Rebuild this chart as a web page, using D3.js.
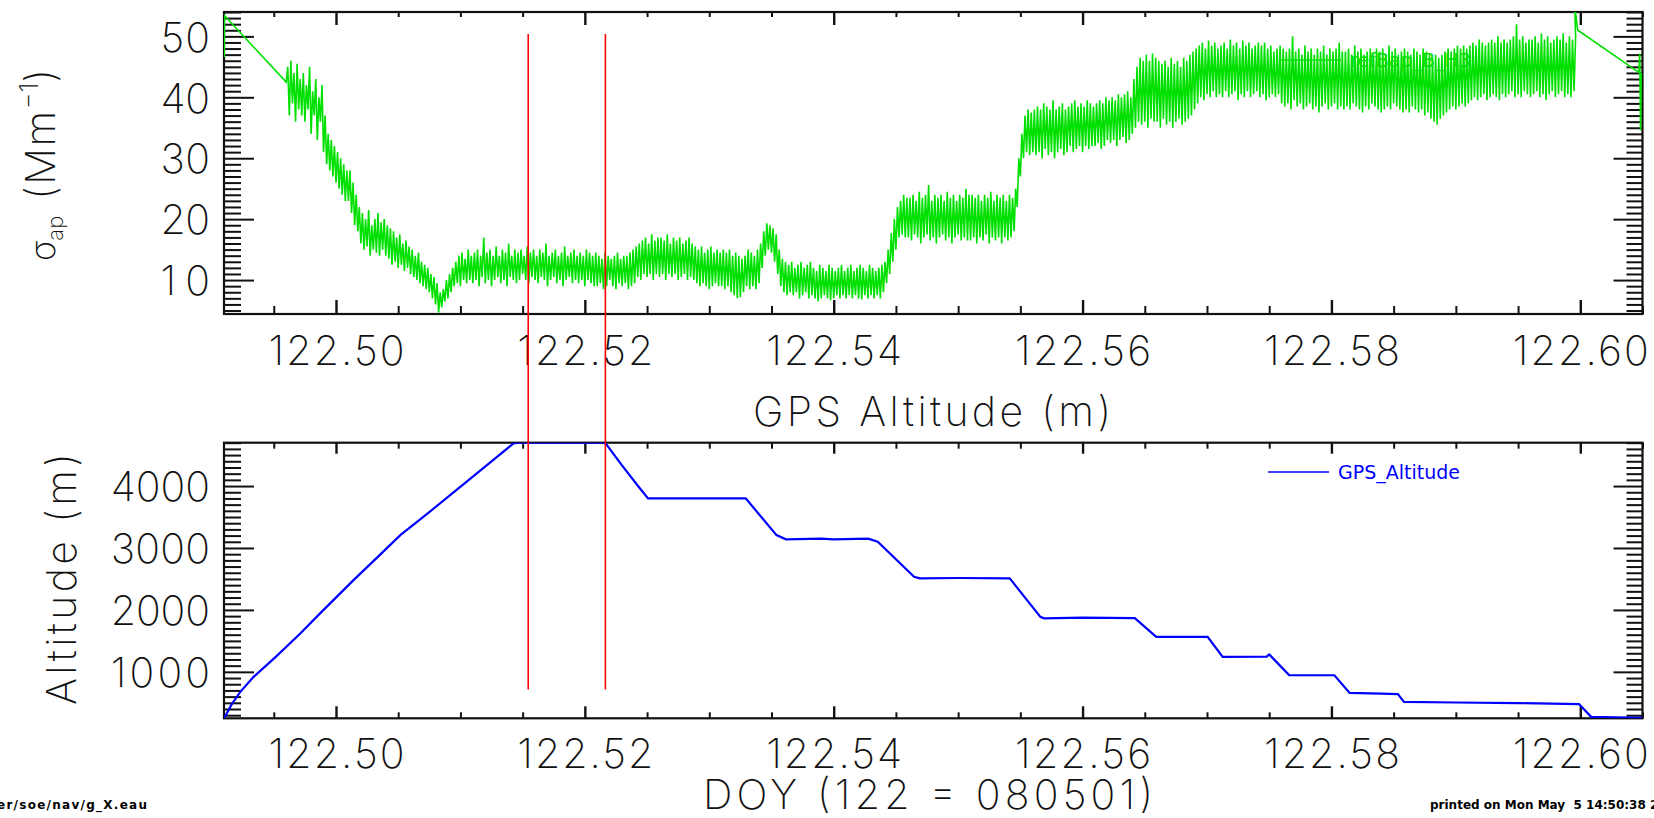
<!DOCTYPE html>
<html>
<head>
<meta charset="utf-8">
<script src="https://cdn.jsdelivr.net/npm/d3@7"></script>
<style>
  html, body { margin: 0; padding: 0; background: #fff; }
  svg { display: block; }
  .big { font-family: Inter, "DejaVu Sans", sans-serif; font-weight: 200; fill: #111; font-size: 41px; }
  .legend { font-family: "DejaVu Sans", sans-serif; font-size: 19px; }
  .foot { font-family: "DejaVu Sans", sans-serif; font-weight: bold; font-size: 12px; fill: #000; }
</style>
</head>
<body>
<svg id="chart" width="1654" height="818"></svg>
<script>
// ---- axes ----
const doyDomain = [122.4910, 122.6050];
const doyTicks = [122.50, 122.52, 122.54, 122.56, 122.58, 122.60];
const doyMinorStep = 0.005;

const sigmaDomain = [4.43, 54.0];
const sigmaTicks = [10, 20, 30, 40, 50];
const sigmaMinorStep = 1;

const altDomain = [250, 4700];
const altTicks = [1000, 2000, 3000, 4000];
const altMinorStep = 100;

// ---- absorption coefficient (Mm-1): per-bin minimum and maximum ----
const sigmaHeadDoy = [122.49102, 122.49104];
const sigmaHeadValues = [46.6, 53.4];
const sigmaStartDoy = 122.4960;
const sigmaBinDoy = 0.00025;
const sigmaLow = [
  42.5, 37, 39, 36, 38, 37, 36, 38, 34, 37, 33, 36, 31, 29, 28, 27, 26, 25, 24, 23,
  23, 21, 19, 18, 16, 15, 15.5, 14, 15, 14.5, 14, 15, 14, 13.5, 12.5, 13, 12, 12.5, 11.5, 12,
  11, 10.5, 10, 9.5, 9, 8.5, 8, 7, 6, 4.7, 5.5, 6.5, 7, 8, 9, 9.5, 9, 10, 9.5, 10,
  9.5, 10, 9, 10.5, 9.5, 10, 9, 10, 10.5, 9.5, 10, 9, 10.5, 10, 9.5, 10, 11, 10, 9.5, 10.5,
  10, 9.5, 10.5, 10, 9, 10, 10.5, 9.5, 10, 9, 10, 10.5, 9.5, 10, 9.5, 10, 9, 10, 9.5, 9,
  9, 9.5, 8.5, 9, 10, 9, 8.5, 9.5, 9, 9.5, 8.5, 9, 9.5, 10.5, 10, 11, 10.5, 11, 10, 11,
  10.5, 11, 10, 11, 10.5, 11, 10, 10.5, 11, 10, 10.5, 10, 9.5, 9, 9.5, 9, 8.5, 9, 9.5, 9,
  9, 8.5, 9, 8, 7.5, 7, 7.2, 8, 9, 8.5, 9, 8.5, 9.5, 12, 14, 15, 14.5, 13, 11, 9,
  8, 7.5, 8, 7.5, 8, 7, 7.5, 8, 7, 7.5, 7, 6.5, 7, 7.5, 7, 6.7, 7, 7.5, 7, 7.5,
  7, 7.5, 7, 7.5, 7, 6.8, 7.5, 7, 7.5, 7, 7.5, 7, 8, 9.5, 11, 13, 15, 17, 17.5, 17,
  17, 16.5, 17.5, 17, 16, 17, 17.5, 16.5, 17, 16, 17, 17.5, 16.5, 17, 16, 17, 17.5, 16.5, 17, 16.5,
  16.5, 17, 16, 17, 16.5, 17.5, 16, 17, 16.5, 17, 16, 17, 16.5, 17, 18, 22, 27, 30, 31, 30.5,
  31, 30.5, 31, 30, 31.5, 30.5, 31, 30, 31, 31.5, 30.5, 31, 32, 31, 31.5, 32, 31, 32, 31.5, 32,
  32, 32.5, 31.5, 32, 33, 32.5, 33, 32, 33, 33.5, 32.5, 33, 34, 35, 36, 35.5, 36, 35, 36.5, 36,
  36, 35, 36.5, 35.5, 36, 35, 36, 36.5, 35.5, 36, 36.5, 37, 38, 39, 40, 39.5, 40.5, 40, 41, 40,
  40.5, 40, 41, 40, 40.5, 41, 39.5, 40.5, 40, 41, 40, 40.5, 41, 40, 40.5, 39.5, 40, 40.5, 40, 40.5,
  39, 38.5, 39, 38, 39.5, 38.5, 39, 38, 38.5, 39, 38, 38.5, 37.5, 38.5, 39, 38, 38.5, 39, 38, 38.5,
  38, 38.5, 38, 39, 38.5, 38, 37.5, 38.5, 38, 39, 38.5, 38, 37.5, 38, 38.5, 38, 39, 38.5, 38, 37.5,
  38, 37.5, 38.5, 38, 37.5, 38, 37, 37.5, 36.5, 36, 35.5, 36.5, 37, 37.5, 38, 38.5, 38, 38.5, 39, 38.5,
  39, 39.5, 40, 39.5, 40, 40.5, 39.5, 40, 40.5, 40, 39.5, 40.5, 40, 40.5, 41, 40, 40.5, 40, 41, 40.5,
  40, 40.5, 41, 40, 40.5, 39.5, 40.5, 41, 40, 40.5, 41, 40, 40.5, 40, 41
];
const sigmaHigh = [
  45, 46, 44, 45.5, 43, 44, 42, 45, 41, 43, 40, 42, 37, 34, 33, 32, 31, 30, 29, 28,
  28, 26, 24, 22, 21, 20, 21.5, 19, 20, 21, 19.5, 20, 19, 18.5, 18, 17, 17.5, 16, 16.5, 15.5,
  15, 14, 14.5, 13, 12.5, 12, 11, 10.5, 9.5, 8, 8.5, 10, 11, 12, 13, 14, 14.5, 13.5, 15, 14,
  14.5, 15, 14, 17, 14.5, 15, 14, 15.5, 14, 15, 14.5, 16, 14, 15, 14.5, 15, 14, 15.5, 14.5, 15,
  14, 15, 14.5, 16, 14, 14.5, 15, 14, 14.5, 15.5, 14, 14.5, 15, 14, 14.5, 14, 15, 14.5, 14, 14.5,
  14, 13.5, 14.5, 14, 13.5, 14, 14.5, 13.5, 14, 14, 14.5, 15, 15.5, 16, 16.5, 17, 16, 17.5, 16.5, 17,
  17, 16.5, 17.5, 16, 17, 16.5, 17, 16, 16.5, 17, 16, 15.5, 15, 15.5, 14.5, 15, 15.5, 14.5, 15, 14.5,
  15, 14.5, 15, 14, 14.5, 14, 13.5, 14, 15, 14.5, 14, 15, 16, 18, 19.3, 19, 18.5, 17.5, 15, 13.5,
  13, 12.5, 13, 12, 12.5, 13, 12, 12.5, 13, 12, 11.5, 12.5, 12, 11.5, 12.5, 12, 11.5, 12, 12.5, 11.5,
  12, 12.5, 11.5, 12, 12.5, 12, 11.5, 12.5, 12, 11.5, 12, 12.5, 13, 15, 17.7, 20, 22, 23, 24, 23.5,
  23.5, 24, 23, 24.5, 23.5, 24, 25.6, 23, 24, 23.5, 24, 23, 24.5, 23.5, 24, 23, 24, 23.5, 25, 24,
  24, 23.5, 24, 23, 24, 23.5, 24.5, 23, 24, 23.5, 24, 23, 24, 23.5, 25, 30, 34, 37, 38, 37.5,
  38, 38.5, 38, 39, 38.5, 38, 39.5, 38, 38.5, 39, 38, 38.5, 39, 39.5, 38.5, 39, 38.5, 39.5, 39, 38.5,
  39, 39.5, 39, 40, 39.5, 40, 39.5, 40.5, 40, 40.5, 41, 40, 43, 45, 46.5, 46, 47, 46, 47.2, 46.5,
  46, 45.5, 46, 45, 46.5, 45.5, 46, 45, 46.5, 46, 47, 47.5, 48, 48.5, 49, 48, 49.3, 48.5, 49, 48,
  48.5, 49, 48, 49.5, 48.5, 49, 48, 49.3, 48.5, 49, 48, 48.5, 49, 48.5, 49, 48, 48.5, 47.5, 48, 48.5,
  48, 47.5, 48, 50, 47.5, 48, 47, 48.5, 47.5, 48, 47, 48, 47.5, 48.5, 47, 48, 47.5, 48, 49, 47.5,
  47.5, 48, 47, 48.5, 47.5, 48, 47, 47.5, 48, 47, 48, 47.5, 48, 47, 48.5, 47.5, 48, 47, 47.5, 48,
  47.5, 47, 48, 47.5, 47, 48, 47.5, 47, 46.5, 47, 46.5, 47, 47.5, 48, 47.5, 48, 48.5, 48, 48.5, 48,
  48.5, 49, 48.5, 49.5, 49, 48.5, 49, 49.5, 49, 50, 49, 49.5, 49, 49.5, 50, 52, 49.5, 50, 49, 49.5,
  49.5, 50, 49, 50.5, 49.5, 50, 49, 49.5, 50, 49.5, 50.5, 49, 50, 49.5, 50
];
const sigmaTailDoy = [122.59955, 122.5998, 122.6047, 122.60478, 122.60484, 122.6049];
const sigmaTailValues = [55, 51, 44.1, 47.2, 34.6, 44];

// ---- GPS altitude (m) ----
const altDoy = [
  122.49102, 122.49160, 122.49231, 122.49338, 122.49520, 122.49713, 122.49880,
  122.50141, 122.50330, 122.50517, 122.50760, 122.50999, 122.51250, 122.51427,
  122.51470, 122.52150, 122.52170, 122.52300, 122.52432, 122.52508, 122.53293,
  122.53540, 122.53616, 122.53900, 122.54000, 122.54277, 122.54354, 122.54646,
  122.54692, 122.55000, 122.55415, 122.55661, 122.55690, 122.56000, 122.56420,
  122.56592, 122.57005, 122.57126, 122.57480, 122.57500, 122.57515, 122.57660,
  122.58024, 122.58146, 122.58400, 122.58534, 122.58583, 122.59000, 122.59500,
  122.59990, 122.60087, 122.60500
];
const altValues = [
  252, 470, 677, 919, 1250, 1620, 1960,
  2481, 2845, 3208, 3596, 3988, 4398, 4690,
  4700, 4700, 4680, 4330, 3989, 3801, 3801,
  3208, 3140, 3150, 3140, 3150, 3100, 2535,
  2509, 2515, 2509, 1888, 1865, 1875, 1868,
  1565, 1565, 1242, 1245, 1280, 1250, 947,
  945, 661, 650, 640, 515, 505, 495,
  480, 273, 258
];

// ---- level-leg markers ----
const markerDoy = [122.51545, 122.52165];
const markerSigmaTop = 50.4;
const markerAltBottom = 716;

// ---- text ----
const topXTitle = "GPS Altitude (m)";
const bottomXTitle = "DOY (122 = 080501)";
const leftYTitleBottom = "Altitude (m)";
const topLegend = "refBap_B_H3";
const bottomLegend = "GPS_Altitude";
const footLeft = "er/soe/nav/g_X.eau";
const footRight = "printed on Mon May  5 14:50:38 2008";

const svg = d3.select("#chart");
const frameL = 224, frameR = 1642.5;
const x = d3.scaleLinear().domain(doyDomain).range([frameL, frameR]);
const yTop = d3.scaleLinear().domain(sigmaDomain).range([314, 12]);
const yBot = d3.scaleLinear().domain(altDomain).range([718.3, 442.7]);

function minorValues(domain, step, majors) {
  const start = Math.ceil(domain[0] / step - 1e-9) * step;
  return d3.range(start, domain[1] + 1e-9, step)
    .filter(v => !majors.some(m => Math.abs(m - v) < step * 1e-3));
}

function styleAxis(g, width) {
  g.select(".domain").remove();
  g.selectAll(".tick line").attr("stroke", "#111").attr("stroke-width", width);
}

function bigText(sel, width) {
  sel.attr("class", "big").attr("font-size", null).attr("font-family", null).attr("fill", null)
    .attr("textLength", width).attr("lengthAdjust", "spacing");
}

function drawPanel(opts) {
  const { y, yTicks, yStep, topTick, botTick, labelBaseline, clipId } = opts;
  const [yb, yt] = y.range();
  const g = svg.append("g");

  const xMinor = minorValues(doyDomain, doyMinorStep, doyTicks);
  const yMinor = minorValues(y.domain(), yStep, yTicks);

  // bottom axis, ticks pointing inward
  const bMaj = g.append("g").attr("transform", `translate(0,${yb})`)
    .call(d3.axisBottom(x).tickValues(doyTicks).tickSizeInner(-botTick[0]).tickSizeOuter(0)
      .tickFormat(d3.format(".2f")));
  styleAxis(bMaj, 2.4);
  bMaj.selectAll("text").attr("y", labelBaseline - yb).attr("dy", null).call(bigText, 136);
  g.append("g").attr("transform", `translate(0,${yb})`)
    .call(d3.axisBottom(x).tickValues(xMinor).tickSizeInner(-botTick[1]).tickSizeOuter(0).tickFormat(""))
    .call(s => styleAxis(s, 2));

  // top axis
  g.append("g").attr("transform", `translate(0,${yt})`)
    .call(d3.axisTop(x).tickValues(doyTicks).tickSizeInner(-topTick[0]).tickSizeOuter(0).tickFormat(""))
    .call(s => styleAxis(s, 2.4));
  g.append("g").attr("transform", `translate(0,${yt})`)
    .call(d3.axisTop(x).tickValues(xMinor).tickSizeInner(-topTick[1]).tickSizeOuter(0).tickFormat(""))
    .call(s => styleAxis(s, 2));

  // left axis with labels
  const lMaj = g.append("g").attr("transform", `translate(${frameL},0)`)
    .call(d3.axisLeft(y).tickValues(yTicks).tickSizeInner(-30).tickSizeOuter(0).tickFormat(d3.format("d")));
  styleAxis(lMaj, 2);
  lMaj.selectAll("text").attr("x", -14).attr("dy", "0.36em")
    .each(function (d) { d3.select(this).call(bigText, String(d).length * 24.8); });
  lMaj.attr("text-anchor", "end");
  g.append("g").attr("transform", `translate(${frameL},0)`)
    .call(d3.axisLeft(y).tickValues(yMinor).tickSizeInner(-17).tickSizeOuter(0).tickFormat(""))
    .call(s => styleAxis(s, 2));

  // right axis
  g.append("g").attr("transform", `translate(${frameR},0)`)
    .call(d3.axisRight(y).tickValues(yTicks).tickSizeInner(-29).tickSizeOuter(0).tickFormat(""))
    .call(s => styleAxis(s, 2));
  g.append("g").attr("transform", `translate(${frameR},0)`)
    .call(d3.axisRight(y).tickValues(yMinor).tickSizeInner(-16).tickSizeOuter(0).tickFormat(""))
    .call(s => styleAxis(s, 2));

  // frame
  g.append("rect").attr("x", frameL).attr("y", yt).attr("width", frameR - frameL).attr("height", yb - yt)
    .attr("fill", "none").attr("stroke", "#111").attr("stroke-width", 2.2);

  svg.append("clipPath").attr("id", clipId).append("rect")
    .attr("x", frameL).attr("y", yt).attr("width", frameR - frameL).attr("height", yb - yt);
}

drawPanel({ y: yTop, yTicks: sigmaTicks, yStep: sigmaMinorStep, topTick: [13, 5], botTick: [14, 8],
  labelBaseline: 365, clipId: "clipTop" });
drawPanel({ y: yBot, yTicks: altTicks, yStep: altMinorStep, topTick: [11, 6], botTick: [12, 6],
  labelBaseline: 768, clipId: "clipBot" });

// ---- absorption series: each bin traced from its minimum to its maximum ----
const sigmaSeries = [];
sigmaHeadDoy.forEach((d, i) => sigmaSeries.push([d, sigmaHeadValues[i]]));
sigmaLow.forEach((lo, i) => {
  const t = sigmaStartDoy + i * sigmaBinDoy;
  sigmaSeries.push([t, lo]);
  sigmaSeries.push([t + sigmaBinDoy / 2, sigmaHigh[i]]);
});
sigmaTailDoy.forEach((d, i) => sigmaSeries.push([d, sigmaTailValues[i]]));

const green = "#00e000";
const topLegendY = 60;
svg.append("line").attr("x1", 1280).attr("x2", 1341).attr("y1", topLegendY).attr("y2", topLegendY)
  .attr("stroke", green).attr("stroke-width", 1.5);
svg.append("text").attr("class", "legend").attr("x", 1350).attr("y", topLegendY + 7)
  .attr("fill", green).text(topLegend);

svg.append("path").datum(sigmaSeries)
  .attr("clip-path", "url(#clipTop)")
  .attr("fill", "none").attr("stroke", green).attr("stroke-width", 1.6).attr("stroke-linejoin", "miter")
  .attr("d", d3.line().x(d => x(d[0])).y(d => yTop(d[1])));

// ---- altitude series ----
const blue = "#0000ff";
svg.append("path").datum(altDoy.map((d, i) => [d, altValues[i]]))
  .attr("clip-path", "url(#clipBot)")
  .attr("fill", "none").attr("stroke", blue).attr("stroke-width", 2.2)
  .attr("d", d3.line().x(d => x(d[0])).y(d => yBot(d[1])));

const botLegendY = 472;
svg.append("line").attr("x1", 1268).attr("x2", 1329).attr("y1", botLegendY).attr("y2", botLegendY)
  .attr("stroke", blue).attr("stroke-width", 1.5);
svg.append("text").attr("class", "legend").attr("x", 1338).attr("y", botLegendY + 7)
  .attr("fill", blue).text(bottomLegend);

// ---- level-leg markers spanning both panels ----
svg.selectAll("line.marker").data(markerDoy).enter().append("line").attr("class", "marker")
  .attr("x1", d => x(d)).attr("x2", d => x(d))
  .attr("y1", yTop(markerSigmaTop)).attr("y2", yBot(markerAltBottom))
  .attr("stroke", "#ff0000").attr("stroke-width", 1.6);

// ---- titles ----
svg.append("text").attr("x", 753).attr("y", 426).text(topXTitle).call(bigText, 358);
svg.append("text").attr("x", 703).attr("y", 809).text(bottomXTitle).call(bigText, 450);

svg.append("text").attr("transform", `translate(76,705) rotate(-90)`).text(leftYTitleBottom).call(bigText, 252);

const sigTitle = svg.append("text").attr("class", "big").attr("text-anchor", "middle")
  .attr("transform", `translate(55,165) rotate(-90)`);
sigTitle.append("tspan").attr("font-size", "34px").text("σ");
sigTitle.append("tspan").attr("font-size", "22px").attr("dy", 8).text("ap");
sigTitle.append("tspan").attr("dy", -8).attr("dx", 16).attr("letter-spacing", "1.5px").text("(Mm");
sigTitle.append("tspan").attr("font-size", "26px").attr("dy", -17).text("−1");
sigTitle.append("tspan").attr("dy", 17).text(")");

// ---- footer ----
svg.append("text").attr("class", "foot").attr("x", -3).attr("y", 809)
  .attr("textLength", 150).attr("lengthAdjust", "spacing").text(footLeft);
svg.append("text").attr("class", "foot").attr("x", 1430).attr("y", 809)
  .attr("xml:space", "preserve").style("white-space", "pre").text(footRight);
</script>
</body>
</html>
